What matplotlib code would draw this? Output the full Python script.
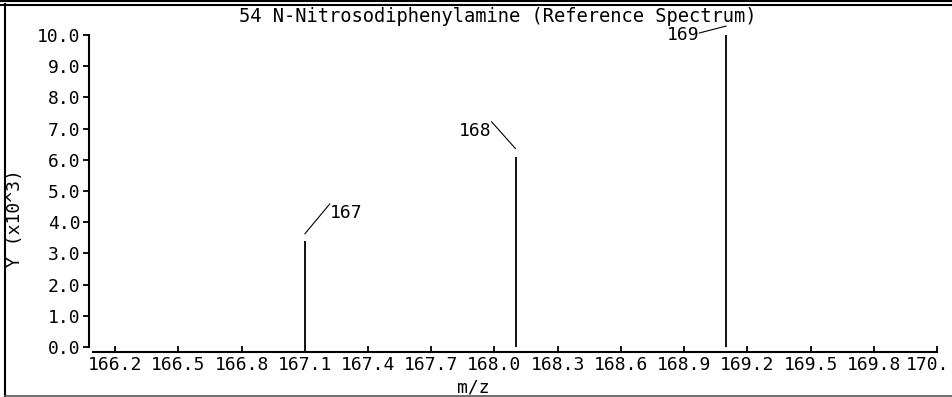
import matplotlib
matplotlib.use("Agg")
import matplotlib.pyplot as plt
from matplotlib.lines import Line2D
from matplotlib.transforms import offset_copy, ScaledTranslation

# ---- data ----
title = "54 N-Nitrosodiphenylamine (Reference Spectrum)"
mz = [167.10, 168.10, 169.10]
intensity = [3.4, 6.1, 10.0]          # Y (x10^3)
peak_labels = ["167", "168", "169"]
xticks = [166.2, 166.5, 166.8, 167.1, 167.4, 167.7, 168.0, 168.3, 168.6,
          168.9, 169.2, 169.5, 169.8, 170.1]
xtick_labels = ["166.2", "166.5", "166.8", "167.1", "167.4", "167.7", "168.0",
                "168.3", "168.6", "168.9", "169.2", "169.5", "169.8", "170."]
yticks = [0, 1, 2, 3, 4, 5, 6, 7, 8, 9, 10]
ytick_labels = ["0.0", "1.0", "2.0", "3.0", "4.0", "5.0", "6.0", "7.0", "8.0",
                "9.0", "10.0"]

W, H = 953, 397
FONT = "DejaVu Sans Mono"
FS = 13

fig = plt.figure(figsize=(W / 100, H / 100), dpi=100)
fig.patch.set_facecolor("white")

# axes: data x 93..937 px, data y: 0 at 347 px, 10 at 35 px (from top)
ax = fig.add_axes([93 / W, (H - 347) / H, (937 - 93) / W, (347 - 35) / H])
ax.set_xlim(166.095, 170.1)
ax.set_ylim(0, 10)
ax.patch.set_alpha(0)

for s in ["top", "right"]:
    ax.spines[s].set_visible(False)
ax.spines["left"].set_position(("outward", 4 * 0.72))
ax.spines["bottom"].set_position(("outward", 5 * 0.72))
for s in ["left", "bottom"]:
    ax.spines[s].set_linewidth(1.5)
    ax.spines[s].set_color("black")

ax.vlines(mz, 0, intensity, color="black", lw=1.3)

ax.set_xticks(xticks)
ax.set_xticklabels(xtick_labels, fontfamily=FONT, fontsize=FS)
ax.set_yticks(yticks)
ax.set_yticklabels(ytick_labels, fontfamily=FONT, fontsize=FS)
ax.tick_params(axis="x", direction="in", length=4, width=1.3, pad=3)
ax.tick_params(axis="y", direction="out", length=4, width=1.3, pad=2)

# last x label sits a little left of its tick, as in the reference
last = ax.get_xticklabels()[-1]
last.set_transform(last.get_transform() + ScaledTranslation(-9 / 100, 0, fig.dpi_scale_trans))

# peak annotations
specs = [
    (7, (25, 37), (25, 37), "left", "top"),
    (8, (-24, 35), (-24, 35), "right", "top"),
    (9, (-27, 2), (-27, 0), "right", "center"),
]
for x, y, lab, (dy1, (dx2, dy2), (tx, ty), ha, va) in zip(mz, intensity, peak_labels, specs):
    tr = offset_copy(ax.transData, fig=fig, x=0, y=dy1, units="dots")
    ax.annotate("", xy=(x, y), xycoords=tr, xytext=(dx2, dy2 - dy1),
                textcoords="offset pixels",
                arrowprops=dict(arrowstyle="-", shrinkA=0, shrinkB=0, lw=0.8,
                                color="black"), annotation_clip=False)
    ax.annotate(lab, xy=(x, y), xytext=(tx, ty), textcoords="offset pixels",
                ha=ha, va=va, fontfamily=FONT, fontsize=FS, annotation_clip=False)

fig.text(498 / W, 1 - 16 / H, title, ha="center", va="center",
         fontfamily=FONT, fontsize=13.5)
fig.text(15 / W, 1 - 218 / H, "Y (x10^3)", rotation=90, ha="center", va="center",
         fontfamily=FONT, fontsize=FS)
fig.text(473 / W, 1 - 388 / H, "m/z", ha="center", va="center",
         fontfamily=FONT, fontsize=FS)

# frame lines (figure pixel coordinates)
def hline(y, x0, x1, lw, color):
    fig.add_artist(Line2D([x0 / W, x1 / W], [1 - y / H, 1 - y / H], lw=lw,
                          color=color, transform=fig.transFigure))

def vline(x, y0, y1, lw, color):
    fig.add_artist(Line2D([x / W, x / W], [1 - y0 / H, 1 - y1 / H], lw=lw,
                          color=color, transform=fig.transFigure))

hline(0.8, 0, W, 1.5, "black")
hline(4.5, 0, W, 1.5, "black")
vline(5, 4, 396, 1.5, "black")
hline(395.5, 5, W, 1.2, "#555555")

fig.savefig("out.png", dpi=100)
